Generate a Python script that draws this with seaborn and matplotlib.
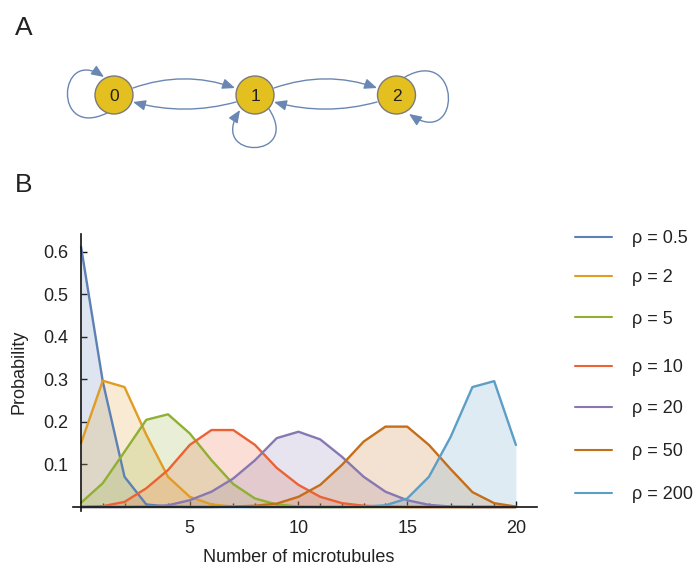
import numpy as np
import pandas as pd
import matplotlib
matplotlib.use("Agg")
import matplotlib.pyplot as plt
from matplotlib.patches import Circle, FancyArrowPatch
from matplotlib.path import Path
from matplotlib.lines import Line2D
import seaborn as sns

sns.set_theme(style="white")
plt.rcParams["font.family"] = ["Liberation Sans", "DejaVu Sans"]

# ---- data: stationary distribution of microtubule number for several rho ----
n_values = list(range(21))
rho_labels = ["ρ = 0.5", "ρ = 2", "ρ = 5", "ρ = 10", "ρ = 20", "ρ = 50", "ρ = 200"]
p_rho_05 = [0.612, 0.295, 0.071, 0.006, 0.001] + [0.0] * 16
p_rho_2 = [0.150, 0.297, 0.282, 0.170, 0.071, 0.024, 0.006, 0.001] + [0.0] * 13
p_rho_5 = [0.010, 0.056, 0.130, 0.205, 0.218, 0.173, 0.110, 0.054, 0.020, 0.006,
           0.001] + [0.0] * 10
p_rho_10 = [0.0, 0.002, 0.012, 0.044, 0.087, 0.146, 0.181, 0.181, 0.146, 0.092,
            0.052, 0.024, 0.009, 0.003, 0.001] + [0.0] * 6
p_rho_20 = [0.0, 0.0, 0.0, 0.001, 0.004, 0.016, 0.036, 0.067, 0.110, 0.162,
            0.177, 0.159, 0.118, 0.071, 0.036, 0.016, 0.005, 0.001, 0.0, 0.0, 0.0]
p_rho_50 = [0.0] * 7 + [0.001, 0.003, 0.008, 0.024, 0.052, 0.099, 0.154, 0.189,
                        0.189, 0.146, 0.089, 0.035, 0.009, 0.001]
p_rho_200 = [0.0] * 13 + [0.001, 0.004, 0.020, 0.071, 0.165, 0.282, 0.296, 0.146]
series = [p_rho_05, p_rho_2, p_rho_5, p_rho_10, p_rho_20, p_rho_50, p_rho_200]
colors = ["#5E81B5", "#E19C24", "#8FB032", "#EB6235", "#8778B3", "#C56E1A", "#5D9EC7"]

# state graph of panel A
state_names = ["0", "1", "2"]

df = pd.DataFrame({
    "n": n_values * len(series),
    "p": [v for s in series for v in s],
    "rho": [lab for lab in rho_labels for _ in n_values],
})

W, H = 698, 572
fig = plt.figure(figsize=(W / 100, H / 100), dpi=100)

# overlay in pixel coordinates for panel A, panel letters and legend
ov = fig.add_axes([0, 0, 1, 1])
ov.set_xlim(0, W)
ov.set_ylim(H, 0)
ov.axis("off")

text_col = "#222222"
edge_col = "#6A87B3"
node_fill = "#E3BF1F"

ov.text(15, 35, "A", fontsize=19, color=text_col, va="baseline", ha="left")
ov.text(15, 192, "B", fontsize=19, color=text_col, va="baseline", ha="left")

node_pos = [(114, 95), (255, 95), (396.5, 95)]
r = 19
for (cx, cy), name in zip(node_pos, state_names):
    ov.add_patch(Circle((cx, cy), r, facecolor=node_fill, edgecolor="#7a7a7a",
                        linewidth=1.0, zorder=3))
    ov.text(cx, cy, name, fontsize=12.5, color=text_col, ha="center",
            va="center_baseline", zorder=4)

arrow_kw = dict(arrowstyle="-|>,head_length=1.0,head_width=0.42",
                mutation_scale=7.5, color=edge_col, linewidth=1.0, zorder=2)


def curve(points):
    codes = [Path.MOVETO] + [Path.CURVE3 if len(points) == 3 else Path.CURVE4] * (len(points) - 1)
    return Path(points, codes)


# transitions between neighbouring states
ov.add_patch(FancyArrowPatch(path=curve([(133, 88), (184, 70), (235, 88)]), **arrow_kw))
ov.add_patch(FancyArrowPatch(path=curve([(236, 102), (185, 116), (133, 102)]), **arrow_kw))
ov.add_patch(FancyArrowPatch(path=curve([(274, 88), (326, 70), (377, 88)]), **arrow_kw))
ov.add_patch(FancyArrowPatch(path=curve([(377, 102), (326, 116), (274, 102)]), **arrow_kw))
# self loops
ov.add_patch(FancyArrowPatch(path=curve([(107, 113), (52, 140), (58, 46), (104, 77)]), **arrow_kw))
ov.add_patch(FancyArrowPatch(path=curve([(269, 109), (302, 160), (208, 160), (240, 110)]), **arrow_kw))
ov.add_patch(FancyArrowPatch(path=curve([(405, 77), (462, 45), (462, 150), (409, 114)]), **arrow_kw))

# ---- panel B ----
ax = fig.add_axes([73 / W, (H - 511) / H, 464 / W, 277 / H])
ax.patch.set_alpha(0)
for s, c in zip(series, colors):
    ax.fill_between(n_values, 0, s, color=c, alpha=0.2, linewidth=0, zorder=1)
sns.lineplot(data=df, x="n", y="p", hue="rho", hue_order=rho_labels,
             palette=colors, legend=False, linewidth=1.7, ax=ax, zorder=2)

ax.set_xlim(-0.37, 20.97)
ax.set_ylim(-0.0094, 0.642)
ax.spines["top"].set_visible(False)
ax.spines["right"].set_visible(False)
ax.spines["left"].set_position(("data", 0))
ax.spines["bottom"].set_position(("data", 0))
for sp in ("left", "bottom"):
    ax.spines[sp].set_color("#111111")
    ax.spines[sp].set_linewidth(1.2)

ax.set_xticks([5, 10, 15, 20])
ax.set_xticks([i for i in range(1, 20) if i % 5], minor=True)
ax.set_yticks([0.1, 0.2, 0.3, 0.4, 0.5, 0.6])
ax.set_yticklabels(["0.1", "0.2", "0.3", "0.4", "0.5", "0.6"])
ax.tick_params(axis="x", which="major", direction="in", length=4, width=1.0,
               color="#111111", labelsize=13, labelcolor=text_col, pad=9,
               bottom=True)
ax.tick_params(axis="x", which="minor", direction="in", length=3, width=1.0,
               color="#111111", bottom=True)
ax.tick_params(axis="y", which="major", direction="in", length=4, width=1.0,
               color="#111111", labelsize=13, labelcolor=text_col, pad=9,
               left=True)
ax.set_xlabel("")
ax.set_ylabel("")

ov.text(299, 557, "Number of microtubules", fontsize=13, color=text_col,
        ha="center", va="center")
ov.text(19, 372, "Probability", fontsize=13, color=text_col, rotation=90,
        ha="center", va="center")

# legend
legend_rows = [236.7, 275.7, 317.3, 365.7, 406.7, 450.0, 492.7]
for lab, c, y in zip(rho_labels, colors, legend_rows):
    ov.add_line(Line2D([575, 612], [y, y], color=c, linewidth=1.5))
    ov.text(632, y + 6.4, lab, fontsize=13, color=text_col, va="baseline", ha="left")

fig.savefig("out.png", dpi=100)
